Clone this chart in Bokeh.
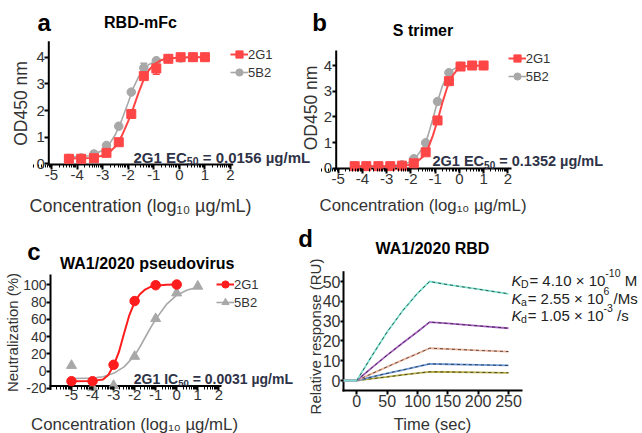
import math
from bokeh.plotting import figure
from bokeh.models import (Label, Legend, LegendItem, FixedTicker, LinearAxis, Whisker,
                          ColumnDataSource, TeeHead, Range1d)
from bokeh.embed import file_html
from bokeh.resources import INLINE

FONT = "Liberation Sans"
TXT = "#333333"
ANN = "#2f3347"
RED_AB = "#ff4646"
RED_C = "#ff1c1c"
GRAY = "#a8a8a8"

# ---------------- data ----------------
# panels a / b : log10 concentration (ug/mL)
conc_ab = [-4.32, -3.84, -3.34, -2.85, -2.37, -1.88, -1.39, -0.90, -0.43, 0.05, 0.53, 1.00]
a_2g1 = [0.19, 0.19, 0.21, 0.41, 0.81, 1.87, 3.29, 3.58, 3.94, 4.00, 4.00, 4.00]
a_5b2 = [0.20, 0.22, 0.37, 0.69, 1.41, 2.69, 3.60, 3.87, 3.95, 3.97, 4.00, 4.00]
a_err_2g1_x = [-0.90]
a_err_2g1_lo = [3.36]
a_err_2g1_hi = [3.80]
a_err_5b2_x = [-1.39]
a_err_5b2_lo = [3.44]
a_err_5b2_hi = [3.77]
a_fit_x = [-4.32, -3.5, -3.0, -2.75, -2.5, -2.25, -2.0, -1.8, -1.6, -1.4, -1.2, -1.0, -0.75, -0.5, 0.0, 0.5, 1.0]
a_fit_2g1 = [0.20, 0.22, 0.30, 0.42, 0.65, 1.05, 1.60, 2.10, 2.65, 3.15, 3.50, 3.72, 3.87, 3.94, 3.99, 4.00, 4.00]
a_fit_5b2 = [0.25, 0.30, 0.50, 0.72, 1.10, 1.65, 2.30, 2.85, 3.25, 3.55, 3.72, 3.82, 3.90, 3.94, 3.98, 4.00, 4.00]

b_2g1 = [0.08, 0.08, 0.08, 0.08, 0.10, 0.19, 0.62, 1.86, 3.39, 3.96, 4.00, 4.00]
b_5b2 = [0.08, 0.08, 0.08, 0.08, 0.13, 0.37, 0.99, 2.60, 3.72, 3.97, 4.00, 4.00]
b_fit_x = [-4.32, -3.0, -2.25, -2.0, -1.75, -1.5, -1.3, -1.1, -0.9, -0.7, -0.5, -0.3, -0.1, 0.2, 0.5, 1.0]
b_fit_2g1 = [0.08, 0.08, 0.10, 0.14, 0.25, 0.45, 0.75, 1.25, 1.86, 2.55, 3.15, 3.58, 3.82, 3.96, 3.99, 4.00]
b_fit_5b2 = [0.08, 0.09, 0.15, 0.27, 0.48, 0.80, 1.25, 1.90, 2.60, 3.20, 3.60, 3.82, 3.92, 3.97, 3.99, 4.00]

# panel c : neutralization (%)
c_conc_2g1 = [-5, -4, -3, -2, -1, 0]
c_2g1 = [-11.6, -11.6, 7.4, 81.2, 99.5, 100.3]
c_conc_5b2 = [-5, -4, -3, -2, -1, 0, 1]
c_5b2 = [6.6, -18.6, -16.6, 17.1, 60.8, 90.5, 98.3]
c_fit_x_2g1 = [-5, -4, -3.5, -3.25, -3.0, -2.75, -2.5, -2.25, -2.0, -1.75, -1.5, -1.25, -1.0, -0.5, 0]
c_fit_2g1 = [-11.5, -11.2, -9.5, -4.5, 6.5, 22, 44, 65, 80, 89, 94.5, 97.5, 99, 100, 100.3]
c_fit_x_5b2 = [-5, -4, -3.5, -3, -2.5, -2, -1.75, -1.5, -1.25, -1, -0.5, 0, 0.5, 1]
c_fit_5b2 = [-8.5, -8, -6.5, -2.5, 5, 18, 28, 39, 50, 60, 77, 88, 94, 97]

# panel d : SPR sensorgrams (RU)
d_time = [-22, 0, 25, 50, 75, 100, 120, 150, 200, 250]
d_r1 = [0, 0, 12.5, 24.5, 35.0, 44.0, 50.0, 48.4, 46.1, 43.8]
d_r2 = [0, 0, 6.5, 12.8, 18.8, 24.6, 29.5, 28.8, 27.6, 26.4]
d_r3 = [0, 0, 3.5, 6.9, 10.3, 13.6, 16.3, 15.9, 15.2, 14.6]
d_r4 = [0, 0, 1.8, 3.6, 5.3, 7.0, 8.4, 8.2, 7.9, 7.6]
d_r5 = [0, 0, 0.9, 1.8, 2.8, 3.7, 4.4, 4.3, 4.1, 3.9]
d_colors = ["#b9b04a", "#6e9ad8", "#e9b29a", "#a760c2", "#7ee2d0"]

log_ticks = [-5, -4, -3, -2, -1, 0, 1, 2]
ab_yticks = [0, 1, 2, 3, 4]
c_yticks = [-20, 0, 20, 40, 60, 80, 100]
d_xticks = [0, 50, 100, 150, 200, 250]
d_yticks = [0, 10, 20, 30, 40, 50]

# ---------------- canvas ----------------
OX, OY, W, H = 0, 0, 642, 433   # page position and size of the single canvas

W_REG = {' ': 278, '(': 333, ')': 333, '-': 333, '.': 278, '/': 278, '=': 584, '\u00d7': 584,
         'M': 833, 's': 500, 'K': 667, 'D': 722, 'a': 556, 'd': 556}
W_BOLD = {' ': 278, 'G': 778, 'E': 667, 'C': 722, 'I': 278, '=': 584, '.': 278, '\u00b5': 611,
          'g': 611, '/': 278, 'm': 889, 'L': 611}


def tw(s, size, bold):
    tbl = W_BOLD if bold else W_REG
    return sum(tbl.get(ch, 556) for ch in s) * size / 1000.0


def log_minor(lo, hi):
    return [d + math.log10(k) for d in range(lo, hi) for k in range(2, 10)]


class Panel:
    """One sub-chart: its own x/y range pair on the shared canvas."""

    def __init__(self, name, xmap, ymap):
        self.name = name
        self.xmap, self.ymap = xmap, ymap
        self.xr = Range1d(self.fx(OX), self.fx(OX + W))
        self.yr = Range1d(self.fy(OY + H), self.fy(OY))

    def fx(self, px):
        a, va, b, vb = self.xmap
        return va + (px - a) * (vb - va) / (b - a)

    def fy(self, py):
        a, va, b, vb = self.ymap
        return va + (py - a) * (vb - va) / (b - a)

    def kw(self):
        return dict(x_range_name=self.name, y_range_name=self.name)


pa_ = Panel("default", (51, -5, 230, 2), (163.3, 0, 56.7, 4))
pb_ = Panel("b", (337.7, -5, 507.3, 2), (167.7, 0, 65, 4))
pc_ = Panel("c", (71, -5, 218.3, 2), (370.7, 0, 284.3, 100))
pd_ = Panel("d", (356.3, 0, 508, 250), (380, 0, 281, 50))

p = figure(width=W, height=H, x_range=pa_.xr, y_range=pa_.yr,
           x_axis_location=None, y_axis_location=None, min_border=0,
           output_backend="svg", toolbar_location=None)
p.extra_x_ranges = {q.name: q.xr for q in (pb_, pc_, pd_)}
p.extra_y_ranges = {q.name: q.yr for q in (pb_, pc_, pd_)}
p.grid.visible = False
p.outline_line_color = None
p.background_fill_color = "white"
p.border_fill_color = "white"


def label(P, px, py, text, size, style="normal", align="left", color="black", angle=0.0):
    p.add_layout(Label(x=P.fx(px), y=P.fy(py), text=text, angle=angle,
                       text_font=FONT, text_font_size=f"{size}px", text_font_style=style,
                       text_color=color, text_align=align, text_baseline="alphabetic", **P.kw()))


def chain(P, px, py, parts, color):
    for txt, size, style, dy in parts:
        bold = style == "bold"
        core = txt.lstrip(" ")
        px += tw(" " * (len(txt) - len(core)), size, bold)
        if core:
            label(P, px, py + dy, core, size, style, "left", color)
            px += tw(core, size, bold)


def legend(items, glyph_left, center1, pitch, size=13):
    gh = 18
    top = center1 - gh / 2
    bottom = top + gh + pitch
    p.add_layout(Legend(items=items, location=(glyph_left - OX, OY + H - bottom),
                        glyph_width=gh, glyph_height=gh, label_height=gh, label_standoff=0,
                        spacing=int(round(pitch - gh)), padding=0, margin=0,
                        border_line_alpha=0, background_fill_alpha=0,
                        label_text_font=FONT, label_text_font_size=f"{size}px",
                        label_text_color=TXT))


def axes(P, L, R, T, B, xaxis_y, xticks, yticks, xminor, xt_fs, yt_fs,
         x_tick_out=5, y_tick_out=4):
    xa = LinearAxis(fixed_location=P.fy(xaxis_y), bounds=(P.fx(L), P.fx(R)),
                    ticker=FixedTicker(ticks=xticks, minor_ticks=xminor or []),
                    major_label_overrides={t: str(t) for t in xticks}, **P.kw())
    ya = LinearAxis(fixed_location=P.fx(L), bounds=(P.fy(B), P.fy(T)),
                    ticker=FixedTicker(ticks=yticks),
                    major_label_overrides={t: str(t) for t in yticks}, **P.kw())
    for ax in (xa, ya):
        ax.axis_line_color = None
        ax.major_tick_line_width = 2
        ax.major_tick_line_color = "black"
        ax.major_tick_in = 0
        ax.minor_tick_line_color = None
        ax.major_label_text_font = FONT
        ax.major_label_text_color = TXT
        ax.major_label_standoff = 0
    if xminor:
        xa.minor_tick_line_color = "black"
        xa.minor_tick_line_width = 1
        xa.minor_tick_in = 0
        xa.minor_tick_out = 3
    xa.major_tick_out = x_tick_out
    ya.major_tick_out = y_tick_out
    xa.major_label_text_font_size = xt_fs
    ya.major_label_text_font_size = yt_fs
    p.add_layout(xa, "below")
    p.add_layout(ya, "left")
    # axis rules, drawn in the panel's own data coordinates
    p.segment(x0=[P.fx(L)], y0=[P.fy(xaxis_y)], x1=[P.fx(R)], y1=[P.fy(xaxis_y)],
              line_color="black", line_width=2, line_cap="square", **P.kw())
    p.segment(x0=[P.fx(L)], y0=[P.fy(B)], x1=[P.fx(L)], y1=[P.fy(T)],
              line_color="black", line_width=2, line_cap="square", **P.kw())


XLAB = "Concentration (log\u2081\u2080 \u00b5g/mL)"
V = math.pi / 2

# ---------------- panel a ----------------
P = pa_
axes(P, 48.3, 231.7, 41.7, 164, 164, log_ticks, ab_yticks, log_minor(-6, 2), "15px", "15px")
la2 = p.line(a_fit_x, a_fit_5b2, line_color=GRAY, line_width=1.6, **P.kw())
sa2 = p.scatter(conc_ab, a_5b2, marker="circle", size=8.5, fill_color=GRAY, line_color=GRAY, **P.kw())
la1 = p.line(a_fit_x, a_fit_2g1, line_color=RED_AB, line_width=2, **P.kw())
sa1 = p.scatter(conc_ab, a_2g1, marker="square", size=9, fill_color=RED_AB, line_color=RED_AB, **P.kw())
for bx, lo, hi, col in ((a_err_5b2_x, a_err_5b2_lo, a_err_5b2_hi, GRAY),
                        (a_err_2g1_x, a_err_2g1_lo, a_err_2g1_hi, RED_AB)):
    p.add_layout(Whisker(source=ColumnDataSource(dict(b=bx, lo=lo, hi=hi)),
                         base="b", lower="lo", upper="hi", line_color=col, line_width=1.5,
                         upper_head=TeeHead(size=7, line_color=col, line_width=1.5),
                         lower_head=TeeHead(size=7, line_color=col, line_width=1.5), **P.kw()))
legend([LegendItem(label="2G1", renderers=[la1, sa1]),
        LegendItem(label="5B2", renderers=[la2, sa2])], 230, 57, 15)
label(P, 37, 22, "a", 24, "bold")
label(P, 140, 21.5, "RBD-mFc", 16, "bold", "center")
label(P, 140, 205, XLAB, 18, "normal", "center", TXT)
label(P, 20.5, 103, "OD450 nm", 17.5, "normal", "center", TXT, V)
chain(P, 133, 156.5, [("2G1 EC", 15, "bold", 0), ("50", 10.5, "bold", 3.5),
                      (" = 0.0156 \u00b5g/mL", 15, "bold", 0)], ANN)

# ---------------- panel b ----------------
P = pb_
axes(P, 335.7, 510, 51, 168, 168, log_ticks, ab_yticks, log_minor(-6, 2), "15px", "15px")
lb2 = p.line(b_fit_x, b_fit_5b2, line_color=GRAY, line_width=1.6, **P.kw())
sb2 = p.scatter(conc_ab, b_5b2, marker="circle", size=8.5, fill_color=GRAY, line_color=GRAY, **P.kw())
lb1 = p.line(b_fit_x, b_fit_2g1, line_color=RED_AB, line_width=2, **P.kw())
sb1 = p.scatter(conc_ab, b_2g1, marker="square", size=9, fill_color=RED_AB, line_color=RED_AB, **P.kw())
legend([LegendItem(label="2G1", renderers=[lb1, sb1]),
        LegendItem(label="5B2", renderers=[lb2, sb2])], 507.7, 61.7, 14.5)
label(P, 311.7, 22, "b", 24, "bold")
label(P, 422.5, 30, "S trimer", 16, "bold", "center")
label(P, 422.5, 205, XLAB, 16.8, "normal", "center", TXT)
label(P, 310.5, 107.5, "OD450 nm", 17.5, "normal", "center", TXT, V)
chain(P, 432, 160.5, [("2G1 EC", 14.5, "bold", 0), ("50", 10, "bold", 3.5),
                      (" = 0.1352 \u00b5g/mL", 14.5, "bold", 0)], ANN)

# ---------------- panel c ----------------
P = pc_
axes(P, 50, 220, 275, 388.5, 385.5, log_ticks, c_yticks, log_minor(-6, 2), "15px", "14px",
     x_tick_out=4)
lc2 = p.line(c_fit_x_5b2, c_fit_5b2, line_color=GRAY, line_width=1.6, **P.kw())
sc2 = p.scatter(c_conc_5b2, c_5b2, marker="triangle", size=10, fill_color=GRAY, line_color=GRAY, **P.kw())
lc1 = p.line(c_fit_x_2g1, c_fit_2g1, line_color=RED_C, line_width=2, **P.kw())
sc1 = p.scatter(c_conc_2g1, c_2g1, marker="circle", size=9.5, fill_color=RED_C, line_color=RED_C, **P.kw())
legend([LegendItem(label="2G1", renderers=[lc1, sc1]),
        LegendItem(label="5B2", renderers=[lc2, sc2])], 216, 284.3, 17.7)
label(P, 26.7, 251, "c", 24, "bold")
label(P, 146.7, 262.5, "WA1/2020 pseudovirus", 16, "bold", "center")
label(P, 134, 424, XLAB, 16.8, "normal", "center", TXT)
label(P, 12, 332, "Neutralization (%)", 15, "normal", "center", TXT, V)
chain(P, 133.3, 378.5, [("2G1 IC", 14, "bold", 0), ("50", 9.6, "bold", 3.5),
                        (" = 0.0031 \u00b5g/mL", 14, "bold", 0)], ANN)

# ---------------- panel d ----------------
P = pd_
axes(P, 343, 521, 271.7, 390, 390, d_xticks, d_yticks, None, "16px", "16px",
     x_tick_out=4, y_tick_out=3)
for ys, col in zip([d_r5, d_r4, d_r3, d_r2, d_r1], d_colors):
    p.line(d_time, ys, line_color=col, line_width=1.8, **P.kw())
    p.line(d_time[1:], ys[1:], line_color="black", line_width=1, line_dash="3 3",
           line_alpha=0.6, **P.kw())
label(P, 297.7, 238.3, "d", 24, "bold")
label(P, 432, 247.5, "WA1/2020 RBD", 16, "bold", "center")
label(P, 432, 423, "Time (sec)", 16.5, "normal", "center", TXT)
label(P, 315, 336, "Relative response (RU)", 15, "normal", "center", TXT, V)
k_lines = [("D", "= 4.10 \u00d7 10", "-10", " M", 280.0),
           ("a", "= 2.55 \u00d7 10", "6", " /Ms", 297.5),
           ("d", "= 1.05 \u00d7 10", "-3", " /s", 315.0)]
for sub, main, sup, unit, base in k_lines:
    label(P, 511.0, base, "K", 15, "italic", color="#222222")
    chain(P, 520.5, base, [(sub, 10.5, "normal", 3.5), (" ", 3, "normal", 0),
                           (main, 15, "normal", 0), (sup, 10.5, "normal", -7.5),
                           (unit, 15, "normal", 0)], "#222222")

open("out.html", "w").write(file_html(p, INLINE))
